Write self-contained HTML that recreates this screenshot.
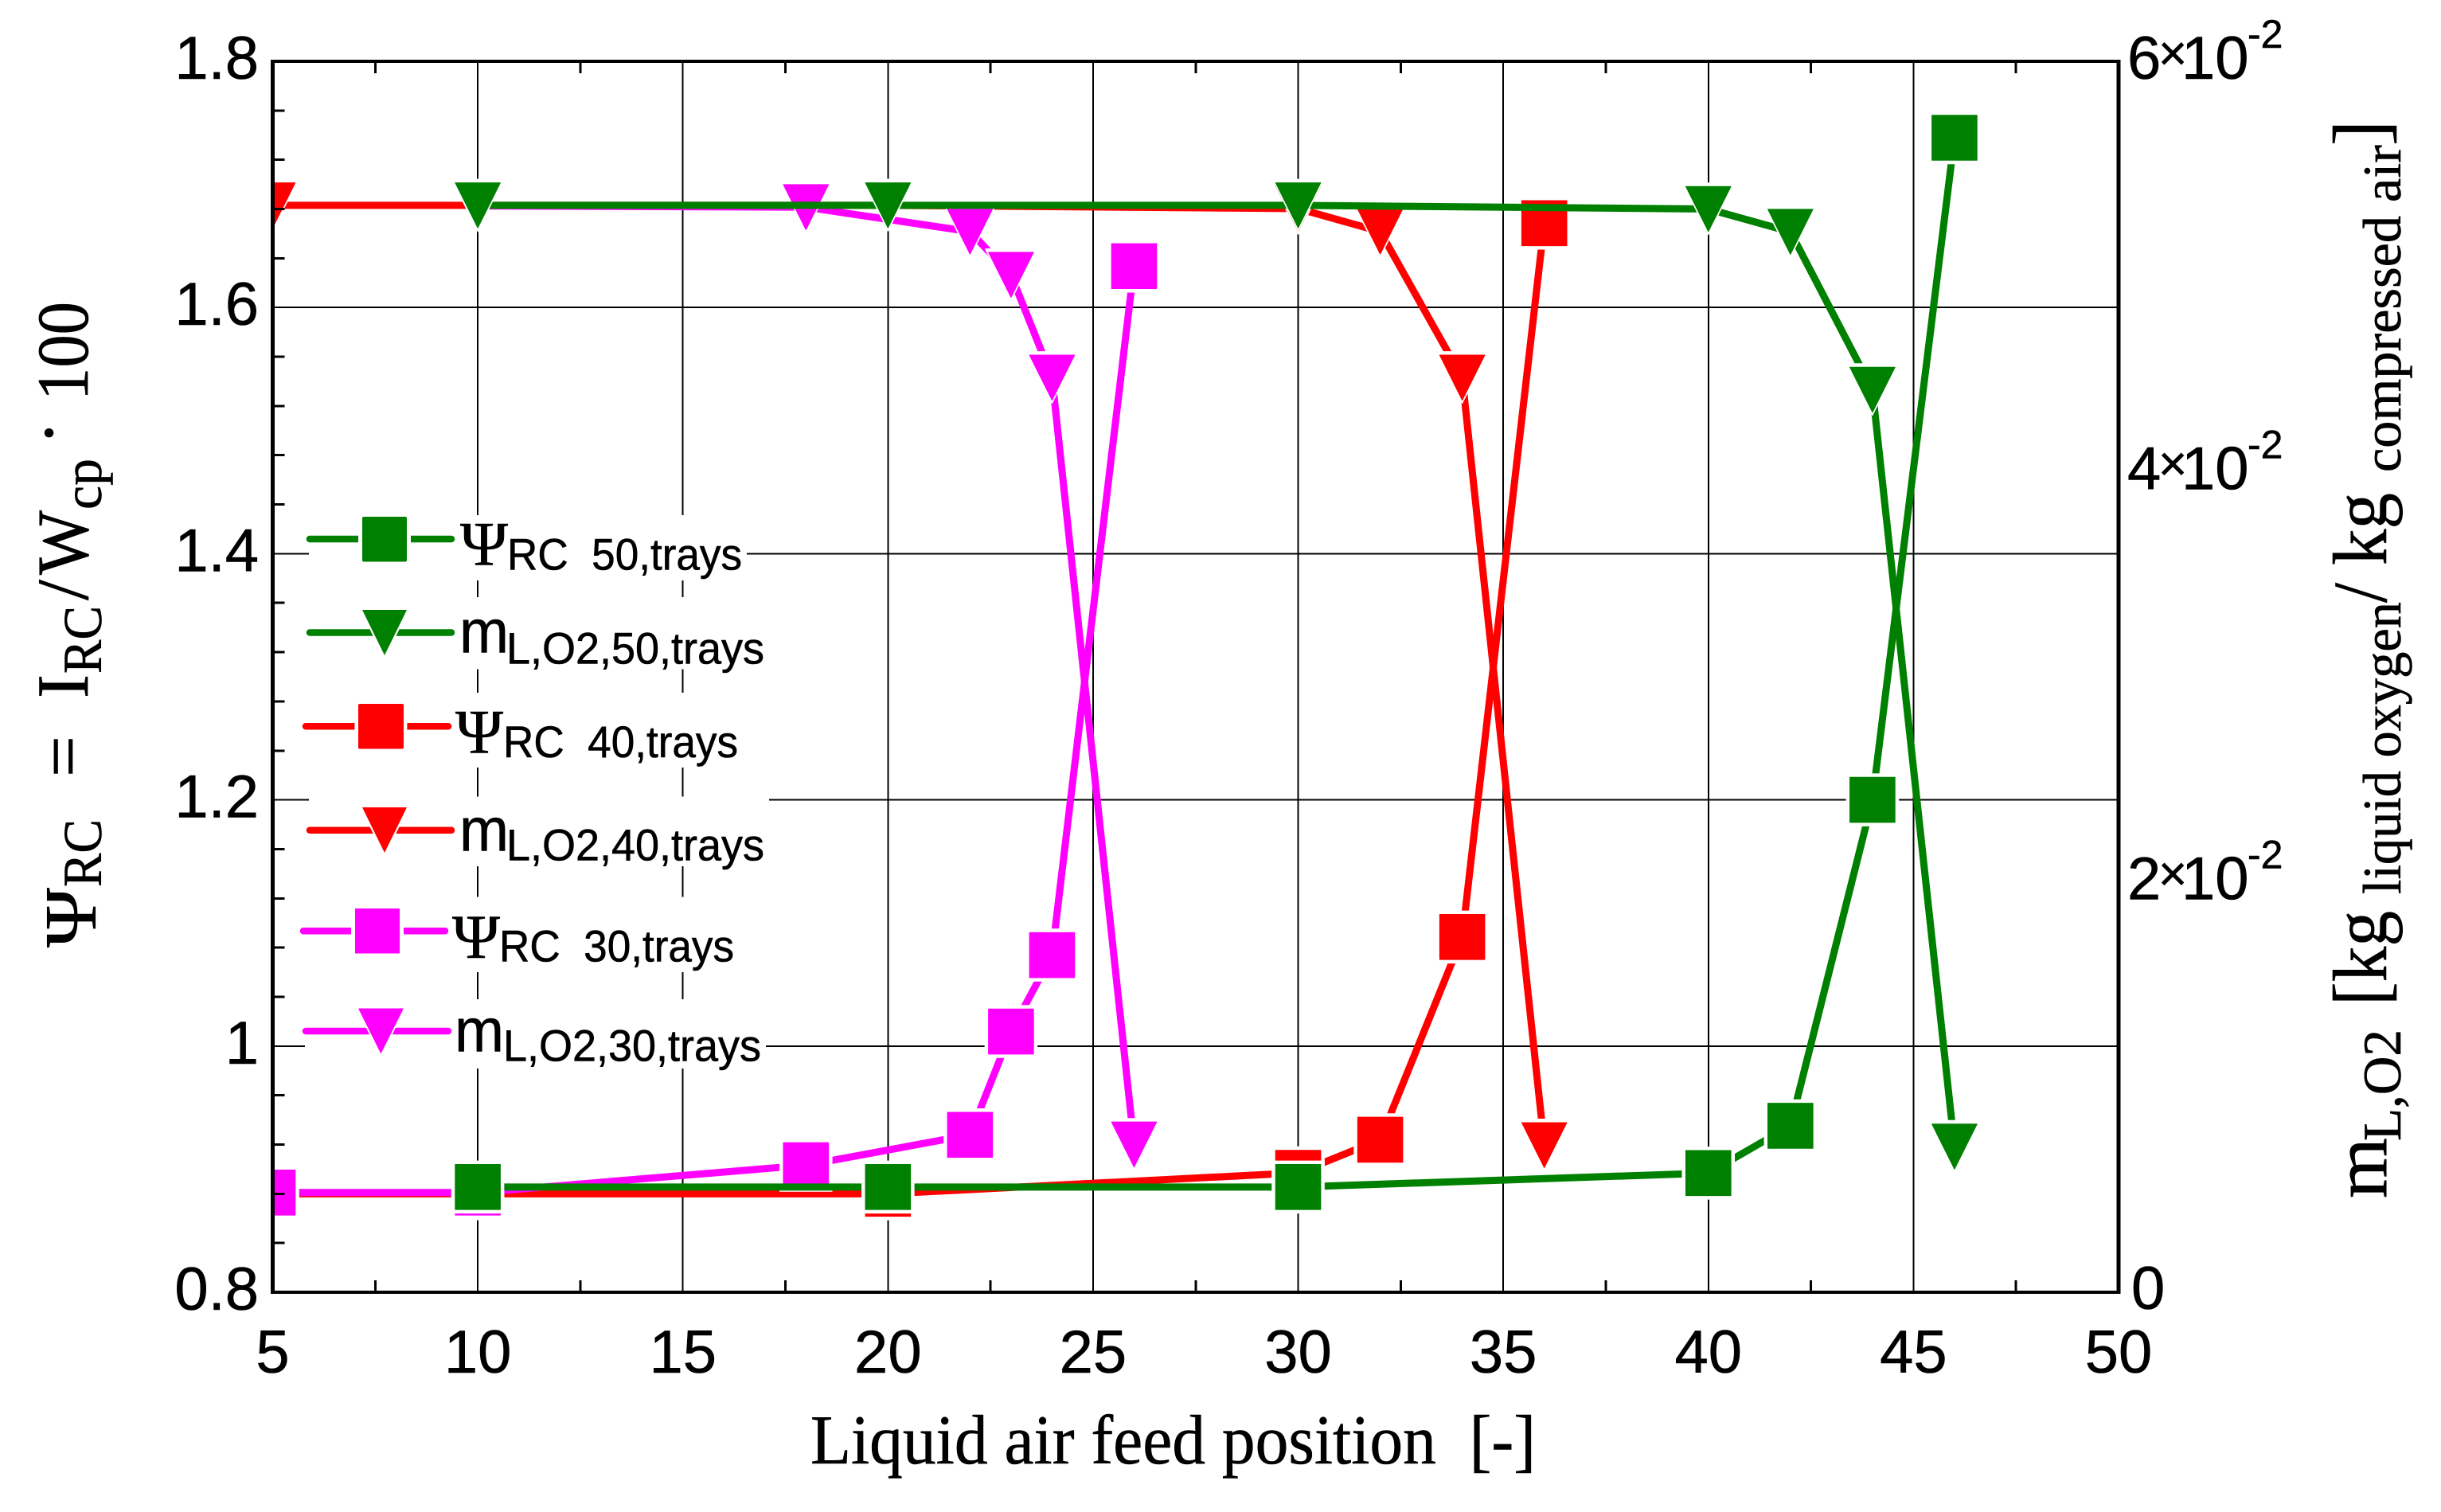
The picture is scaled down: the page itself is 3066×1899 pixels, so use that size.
<!DOCTYPE html>
<html lang="en">
<head>
<meta charset="utf-8">
<title>Liquid air feed position chart</title>
<style>
html,body{margin:0;padding:0;background:#fff;}
svg{display:block;}
.sans{font-family:"Liberation Sans",sans-serif;fill:#000;stroke:#000;stroke-width:.6;}
.serif{font-family:"Liberation Serif",serif;fill:#000;stroke:#000;stroke-width:.6;}
</style>
</head>
<body>
<svg id="chart" xmlns="http://www.w3.org/2000/svg" width="3066" height="1899" viewBox="0 0 3066 1899">
  <defs><clipPath id="plot-clip"><rect x="342.5" y="77" width="2318.5" height="1546"/></clipPath></defs>
  <rect x="0" y="0" width="3066" height="1899" fill="#fff"/>
  <g id="grid" shape-rendering="crispEdges"></g>
  <g id="series" clip-path="url(#plot-clip)"></g>

  <g>
    <rect x="388" y="647" width="550" height="82" fill="#fff"/>
    <rect x="388" y="750" width="578" height="90.5" fill="#fff"/>
    <rect x="383" y="870" width="547" height="94" fill="#fff"/>
    <rect x="388" y="1000.5" width="578" height="87.5" fill="#fff"/>
    <rect x="383" y="1126.5" width="542" height="94.5" fill="#fff"/>
    <rect x="383" y="1255" width="579" height="87" fill="#fff"/>

    <g>
      <line x1="389" y1="677" x2="567" y2="677" stroke="#008000" stroke-width="8.5" stroke-linecap="round"/>
      <rect x="450" y="644" width="66" height="66" fill="#fff"/>
      <rect x="455" y="649" width="56" height="56.5" rx="2" fill="#008000"/>
      <text class="serif" x="578" y="709.7" font-size="78" textLength="60" lengthAdjust="spacingAndGlyphs">Ψ</text>
      <text class="sans" x="637" y="715.5" font-size="56" textLength="295" lengthAdjust="spacingAndGlyphs">RC&#160;&#160;50,trays</text>
    </g>
    <g>
      <line x1="389" y1="794.5" x2="567" y2="794.5" stroke="#008000" stroke-width="8.5" stroke-linecap="round"/>
      <polygon points="450,761 516,761 483,828" fill="#fff"/>
      <polygon points="455,766 511,766 483,823" fill="#008000"/>
      <text class="sans" x="577" y="819.7" font-size="77" textLength="62" lengthAdjust="spacingAndGlyphs">m</text>
      <text class="sans" x="636" y="833.3" font-size="56" textLength="324" lengthAdjust="spacingAndGlyphs">L,O2,50,trays</text>
    </g>
    <g>
      <line x1="384" y1="912.3" x2="563" y2="912.3" stroke="#ff0000" stroke-width="8.5" stroke-linecap="round"/>
      <rect x="445.4" y="879.3" width="66" height="66" fill="#fff"/>
      <rect x="450" y="884" width="57" height="56.5" rx="2" fill="#ff0000"/>
      <text class="serif" x="572" y="945.7" font-size="78" textLength="60" lengthAdjust="spacingAndGlyphs">Ψ</text>
      <text class="sans" x="632" y="951" font-size="56" textLength="295" lengthAdjust="spacingAndGlyphs">RC&#160;&#160;40,trays</text>
    </g>
    <g>
      <line x1="389" y1="1042.7" x2="567" y2="1042.7" stroke="#ff0000" stroke-width="8.5" stroke-linecap="round"/>
      <polygon points="450,1009 516,1009 483,1076" fill="#fff"/>
      <polygon points="455,1014 511,1014 483,1071" fill="#ff0000"/>
      <text class="sans" x="577" y="1068.4" font-size="77" textLength="62" lengthAdjust="spacingAndGlyphs">m</text>
      <text class="sans" x="636" y="1080.5" font-size="56" textLength="324" lengthAdjust="spacingAndGlyphs">L,O2,40,trays</text>
    </g>
    <g>
      <line x1="381" y1="1169.2" x2="559" y2="1169.2" stroke="#ff00ff" stroke-width="8.5" stroke-linecap="round"/>
      <rect x="441" y="1136.2" width="66" height="66" fill="#fff"/>
      <rect x="446" y="1141" width="56" height="56.5" fill="#ff00ff"/>
      <text class="serif" x="568" y="1203" font-size="78" textLength="60" lengthAdjust="spacingAndGlyphs">Ψ</text>
      <text class="sans" x="627" y="1207.5" font-size="56" textLength="295" lengthAdjust="spacingAndGlyphs">RC&#160;&#160;30,trays</text>
    </g>
    <g>
      <line x1="384" y1="1295" x2="563" y2="1295" stroke="#ff00ff" stroke-width="8.5" stroke-linecap="round"/>
      <polygon points="445.4,1261.5 511.4,1261.5 478.4,1328.5" fill="#fff"/>
      <polygon points="450,1266.5 507,1266.5 478.4,1323.5" fill="#ff00ff"/>
      <text class="sans" x="571" y="1320.4" font-size="77" textLength="62" lengthAdjust="spacingAndGlyphs">m</text>
      <text class="sans" x="632" y="1332.6" font-size="56" textLength="324" lengthAdjust="spacingAndGlyphs">L,O2,30,trays</text>
    </g>
  </g>

  <g id="axes" shape-rendering="crispEdges"></g>
  <g id="labels"></g>

  <text class="serif" x="1018" y="1838" font-size="88" textLength="911" lengthAdjust="spacingAndGlyphs">Liquid air feed position&#160;&#160;[-]</text>

  <g>
    <text class="serif" transform="translate(120,1190) rotate(-90)" font-size="92" textLength="75" lengthAdjust="spacingAndGlyphs">Ψ</text>
    <text class="serif" transform="translate(127,1114) rotate(-90)" font-size="69" textLength="85" lengthAdjust="spacingAndGlyphs">RC</text>
    <text class="serif" transform="translate(110,976) rotate(-90)" font-size="92">=</text>
    <text class="serif" transform="translate(110,877) rotate(-90)" font-size="92" textLength="30" lengthAdjust="spacingAndGlyphs">I</text>
    <text class="serif" transform="translate(127,846) rotate(-90)" font-size="69" textLength="85" lengthAdjust="spacingAndGlyphs">RC</text>
    <text class="serif" transform="translate(110,754) rotate(-90)" font-size="92" textLength="26" lengthAdjust="spacingAndGlyphs">/</text>
    <text class="serif" transform="translate(110,722) rotate(-90)" font-size="92" textLength="81" lengthAdjust="spacingAndGlyphs">W</text>
    <text class="serif" transform="translate(127,640) rotate(-90)" font-size="69" textLength="64" lengthAdjust="spacingAndGlyphs">cp</text>
    <text class="serif" transform="translate(92,559) rotate(-90)" font-size="92">·</text>
    <text class="serif" transform="translate(110,503) rotate(-90)" font-size="92" textLength="124" lengthAdjust="spacingAndGlyphs">100</text>
  </g>

  <g>
    <text class="serif" transform="translate(2997,1505) rotate(-90)" font-size="96" textLength="76" lengthAdjust="spacingAndGlyphs">m</text>
    <text class="serif" transform="translate(3015,1433) rotate(-90)" font-size="68" textLength="140" lengthAdjust="spacingAndGlyphs">L,O2</text>
    <text class="serif" transform="translate(2997,1263) rotate(-90)" font-size="96" textLength="119" lengthAdjust="spacingAndGlyphs">[kg</text>
    <text class="serif" transform="translate(3015,1123) rotate(-90)" font-size="68" textLength="367" lengthAdjust="spacingAndGlyphs">liquid oxygen</text>
    <text class="serif" transform="translate(2997,757) rotate(-90)" font-size="96" textLength="25" lengthAdjust="spacingAndGlyphs">/</text>
    <text class="serif" transform="translate(2997,710) rotate(-90)" font-size="96" textLength="91" lengthAdjust="spacingAndGlyphs">kg</text>
    <text class="serif" transform="translate(3015,593) rotate(-90)" font-size="68" textLength="411" lengthAdjust="spacingAndGlyphs">compressed air</text>
    <text class="serif" transform="translate(2997,183) rotate(-90)" font-size="96">]</text>
  </g>

<script>
// ---- chart data ----
const xTickValues = [5, 10, 15, 20, 25, 30, 35, 40, 45, 50];
const xTickLabels = ['5', '10', '15', '20', '25', '30', '35', '40', '45', '50'];
const xMinorTicks = [7.5, 12.5, 17.5, 22.5, 27.5, 32.5, 37.5, 42.5, 47.5];
const yLeftTickValues = [0.8, 1.0, 1.2, 1.4, 1.6, 1.8];
const yLeftTickLabels = ['0.8', '1', '1.2', '1.4', '1.6', '1.8'];
const yLeftMinorTicks = [0.84, 0.88, 0.92, 0.96, 1.04, 1.08, 1.12, 1.16, 1.24, 1.28, 1.32, 1.36, 1.44, 1.48, 1.52, 1.56, 1.64, 1.68, 1.72, 1.76];
const yRightTickValues = [0.02, 0.04, 0.06];
const yRightTickMantissas = ['2', '4', '6'];

const psiGreenX = [10, 20, 30, 40, 42, 44, 46];
const psiGreenY = [0.8855, 0.8855, 0.8855, 0.8968, 0.9352, 1.2, 1.7379];
const mGreenX = [10, 20, 30, 40, 42, 44, 46];
const mGreenY = [0.05298, 0.05298, 0.05298, 0.0528, 0.05169, 0.04399, 0.0071];
const psiRedX = [5, 10, 20, 30, 32, 34, 36];
const psiRedY = [0.88, 0.88, 0.88, 0.897, 0.9239, 1.0886, 1.6685];
const mRedX = [5, 10, 20, 30, 32, 34, 36];
const mRedY = [0.05298, 0.05298, 0.05298, 0.05282, 0.0517, 0.04458, 0.00717];
const psiMagentaX = [5, 10, 18, 22, 23, 24, 26];
const psiMagentaY = [0.881, 0.881, 0.9032, 0.9279, 1.0118, 1.0739, 1.6336];
const mMagentaX = [10, 18, 22, 23, 24, 26];
const mMagentaY = [0.05295, 0.05289, 0.0517, 0.04959, 0.04458, 0.0072];

// ---- axis functions ----
const plotLeft = 342.5, plotRight = 2661, plotTop = 77, plotBottom = 1623;
function xScale(v) { return plotLeft + (v - 5) / 45 * (plotRight - plotLeft); }
function yLeft(v) { return plotBottom - (v - 0.8) / 1.0 * (plotBottom - plotTop); }
function yRight(v) { return plotBottom - v / 0.06 * (plotBottom - plotTop); }

const NS = 'http://www.w3.org/2000/svg';
function make(tag, attrs, parent) {
  const el = document.createElementNS(NS, tag);
  for (const k in attrs) el.setAttribute(k, attrs[k]);
  parent.appendChild(el);
  return el;
}
const gridG = document.getElementById('grid');
const axesG = document.getElementById('axes');
const labelsG = document.getElementById('labels');
const seriesG = document.getElementById('series');

// ---- grid ----
xTickValues.slice(1, -1).forEach(function (v) {
  const el = make('line', {x1: xScale(v), x2: xScale(v), y1: plotTop, y2: plotBottom, stroke: '#000', 'stroke-width': 2}, gridG);
  
  
});
yLeftTickValues.slice(1, -1).forEach(function (v) {
  const el = make('line', {x1: plotLeft, x2: plotRight, y1: yLeft(v), y2: yLeft(v), stroke: '#000', 'stroke-width': 2}, gridG);
  
  
});

// ---- series ----
function drawSeries(name, xs, ys, yFn, color, kind) {
  const g = make('g', {}, seriesG);
  
  
  const pts = xs.map(function (x, i) { return xScale(x) + ',' + yFn(ys[i]); }).join(' ');
  const line = make('polyline', {points: pts, fill: 'none', stroke: color, 'stroke-width': 9, 'stroke-linejoin': 'round'}, g);
  
  
  xs.forEach(function (x, i) {
    const cx = xScale(x), cy = yFn(ys[i]);
    const shape = function (s) {
      if (kind === 'square') {
        return (cx - 28.3 * s) + ',' + (cy - 28.3 * s) + ' ' + (cx + 28.3 * s) + ',' + (cy - 28.3 * s) + ' ' +
               (cx + 28.3 * s) + ',' + (cy + 28.3 * s) + ' ' + (cx - 28.3 * s) + ',' + (cy + 28.3 * s);
      }
      return (cx - 28.3 * s) + ',' + (cy - 28.3 * s) + ' ' + (cx + 28.3 * s) + ',' + (cy - 28.3 * s) + ' ' +
             cx + ',' + (cy + 28.3 * s);
    };
    const halo = make('polygon', {points: shape(1.175), fill: '#fff'}, g);
    
    
    const mark = make('polygon', {points: shape(1), fill: color, stroke: color, 'stroke-width': 1, 'stroke-linejoin': 'round'}, g);
    
    
  });
}
drawSeries('psi-rc-40-trays', psiRedX, psiRedY, yLeft, '#ff0000', 'square');
drawSeries('m-lo2-40-trays', mRedX, mRedY, yRight, '#ff0000', 'triangle');
drawSeries('psi-rc-30-trays', psiMagentaX, psiMagentaY, yLeft, '#ff00ff', 'square');
drawSeries('m-lo2-30-trays', mMagentaX, mMagentaY, yRight, '#ff00ff', 'triangle');
drawSeries('psi-rc-50-trays', psiGreenX, psiGreenY, yLeft, '#008000', 'square');
drawSeries('m-lo2-50-trays', mGreenX, mGreenY, yRight, '#008000', 'triangle');

// ---- ticks ----
xMinorTicks.forEach(function (v) {
  const b = make('line', {x1: xScale(v), x2: xScale(v), y1: plotBottom, y2: plotBottom - 15, stroke: '#000', 'stroke-width': 3}, axesG);
  
  
  const t = make('line', {x1: xScale(v), x2: xScale(v), y1: plotTop, y2: plotTop + 15, stroke: '#000', 'stroke-width': 3}, axesG);
  
  
});
yLeftMinorTicks.forEach(function (v) {
  const el = make('line', {x1: plotLeft, x2: plotLeft + 15, y1: yLeft(v), y2: yLeft(v), stroke: '#000', 'stroke-width': 3}, axesG);
  
  
});

// ---- axis frame ----
const frameLeft = make('line', {x1: plotLeft, x2: plotLeft, y1: plotTop - 2, y2: plotBottom + 2, stroke: '#000', 'stroke-width': 5}, axesG);


const frameRight = make('line', {x1: plotRight, x2: plotRight, y1: plotTop - 2, y2: plotBottom + 2, stroke: '#000', 'stroke-width': 5}, axesG);


const frameTop = make('line', {x1: plotLeft, x2: plotRight, y1: plotTop, y2: plotTop, stroke: '#000', 'stroke-width': 4}, axesG);


const frameBottom = make('line', {x1: plotLeft, x2: plotRight, y1: plotBottom, y2: plotBottom, stroke: '#000', 'stroke-width': 4}, axesG);



// ---- tick labels ----
function tickText(str, x, y, anchor, size) {
  const el = make('text', {x: x, y: y, 'text-anchor': anchor, 'font-size': size, 'class': 'sans'}, labelsG);
  el.textContent = str;
  return el;
}
xTickValues.forEach(function (v, i) {
  const el = tickText(xTickLabels[i], xScale(v), 1724, 'middle', 76);
  
  
});
yLeftTickValues.forEach(function (v, i) {
  const el = tickText(yLeftTickLabels[i], 325, yLeft(v) + 22, 'end', 76);
  
  
});
const zeroLabel = tickText('0', 2677, 1644, 'start', 76);


yRightTickValues.forEach(function (v, i) {
  const base = yRight(v) + 22;
  const mant = tickText(yRightTickMantissas[i], 2672, base, 'start', 76);
  
  
  const times = tickText('×', 2711, base - 11, 'start', 62);
  
  
  const ten = tickText('10', 2740, base, 'start', 76);
  
  
  const exp = tickText('-2', 2823, base - 39, 'start', 50);
  
  
});
</script>
</svg>
</body>
</html>
